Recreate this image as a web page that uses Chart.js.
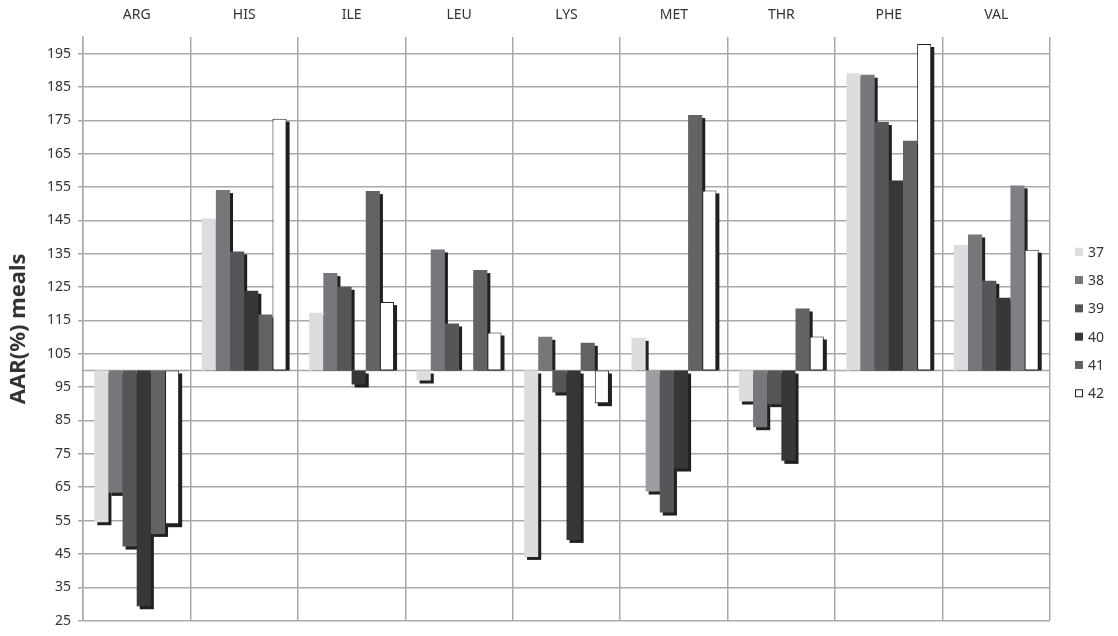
<!DOCTYPE html>
<html>
<head>
<meta charset="utf-8">
<title>AAR(%) meals</title>
<script src="https://cdn.jsdelivr.net/npm/chart.js@4.4.1/dist/chart.umd.min.js"></script>
<style>
  html, body { margin: 0; padding: 0; background: #fff; }
  #wrap { width: 1118px; height: 636px; position: relative; }
</style>
</head>
<body>
<div id="wrap"><canvas id="chart-aar"></canvas></div>
<script>
var aminoAcids = ['ARG', 'HIS', 'ILE', 'LEU', 'LYS', 'MET', 'THR', 'PHE', 'VAL'];
var seriesNames = ['37', '38', '39', '40', '41', '42'];
var s37 = [54.5, 145.6, 117.3, 97.0, 44.1, 109.8, 90.7, 189.1, 137.6];
var s38 = [63.3, 154.1, 129.2, 136.3, 110.1, 63.7, 83.0, 188.7, 140.8];
var s39 = [47.2, 135.7, 125.1, 114.1, 93.4, 57.4, 89.9, 174.5, 126.9];
var s40 = [29.3, 123.9, 95.8, null, 49.2, 70.6, 72.9, 157.0, 121.8];
var s41 = [51.0, 116.8, 153.8, 130.1, 108.3, 176.6, 118.6, 168.9, 155.5];
var s42 = [53.9, 175.5, 120.5, 111.4, 90.2, 154.0, 110.2, 197.9, 136.2];
var yTicks = [25, 35, 45, 55, 65, 75, 85, 95, 105, 115, 125, 135, 145, 155, 165, 175, 185, 195];
var baseValue = 100;

var seriesColors = ['#dcdddf', '#76777b', '#555658', '#373737', '#636365', '#ffffff'];
var edge = '#231f20';
var gridGray = '#a9a9a9';
var font = "'Noto Sans', 'DejaVu Sans', sans-serif";

// a few bars in the original are a shade lighter than their series
function barColors(i) {
    return aminoAcids.map(function (a) {
        if (i === 1 && a === 'MET') return '#9d9ea2';
        if (i === 4 && a === 'VAL') return '#808084';
        return seriesColors[i];
    });
}

var allSeries = [s37, s38, s39, s40, s41, s42];
var datasets = allSeries.map(function (vals, i) {
    return {
        label: seriesNames[i],
        data: vals,
        base: baseValue,
        backgroundColor: barColors(i),
        borderColor: edge,
        borderWidth: i === 5 ? 1 : 0,
        borderSkipped: false
    };
});

// dark drop shadow behind each bar, plus the category axis line at 100
var barShadows = {
    id: 'barShadows',
    beforeDatasetsDraw: function (chart) {
        var ctx = chart.ctx, area = chart.chartArea;
        var basePx = chart.scales.y.getPixelForValue(baseValue);
        ctx.save();
        ctx.strokeStyle = gridGray;
        ctx.lineWidth = 1.5;
        ctx.beginPath();
        ctx.moveTo(area.left, basePx);
        ctx.lineTo(area.right, basePx);
        ctx.stroke();
        ctx.fillStyle = edge;
        chart.data.datasets.forEach(function (ds, i) {
            chart.getDatasetMeta(i).data.forEach(function (bar, j) {
                var v = ds.data[j];
                if (v == null) return;
                var p = bar.getProps(['x', 'y', 'width'], true);
                var left = p.x - p.width / 2 + 3;
                if (v >= baseValue) {
                    ctx.fillRect(left, p.y + 3, p.width, basePx - p.y - 3);
                } else {
                    ctx.fillRect(left, basePx + 3, p.width, p.y - basePx);
                }
            });
        });
        ctx.restore();
    }
};

var sideLegend = {
    id: 'sideLegend',
    afterDraw: function (chart) {
        var ctx = chart.ctx;
        var step = 28.3;
        var y0 = 322.5 - step * (seriesNames.length - 1) / 2;
        ctx.save();
        ctx.font = '14px ' + font;
        ctx.textBaseline = 'middle';
        ctx.textAlign = 'left';
        seriesNames.forEach(function (name, i) {
            var cy = y0 + i * step;
            ctx.fillStyle = seriesColors[i];
            ctx.fillRect(1075, cy - 4, 8, 8);
            if (i === 5) {
                ctx.strokeStyle = edge;
                ctx.lineWidth = 1;
                ctx.strokeRect(1075.5, cy - 3.5, 7, 7);
            }
            ctx.fillStyle = '#333';
            ctx.fillText(name, 1088, cy + 1);
        });
        ctx.restore();
    }
};

new Chart(document.getElementById('chart-aar'), {
    type: 'bar',
    data: { labels: aminoAcids, datasets: datasets },
    options: {
        responsive: true,
        maintainAspectRatio: false,
        animation: false,
        layout: { padding: { left: 0, right: 68, top: 0, bottom: 7 } },
        datasets: { bar: { categoryPercentage: 0.79, barPercentage: 1 } },
        plugins: { legend: { display: false }, tooltip: { enabled: false } },
        scales: {
            x: {
                position: 'top',
                offset: true,
                grid: { offset: true, color: gridGray, lineWidth: 1.5, drawTicks: false },
                border: { display: false },
                ticks: { color: '#333', padding: 14, font: { family: font, size: 14 } },
                afterFit: function (s) { s.height = 37; }
            },
            y: {
                min: 25,
                max: 200,
                afterBuildTicks: function (s) {
                    s.ticks = yTicks.map(function (v) { return { value: v }; });
                },
                grid: { color: gridGray, lineWidth: 1.5, tickLength: 5 },
                border: { display: true, color: gridGray, width: 1.5 },
                ticks: { color: '#333', padding: 7, font: { family: font, size: 14 } },
                title: {
                    display: true,
                    text: 'AAR(%) meals',
                    color: '#333',
                    padding: { top: 6, bottom: 0 },
                    font: { family: font, size: 22, weight: 'bold' }
                },
                afterFit: function (s) { s.width = 83; }
            }
        }
    },
    plugins: [barShadows, sideLegend]
});
</script>
</body>
</html>
